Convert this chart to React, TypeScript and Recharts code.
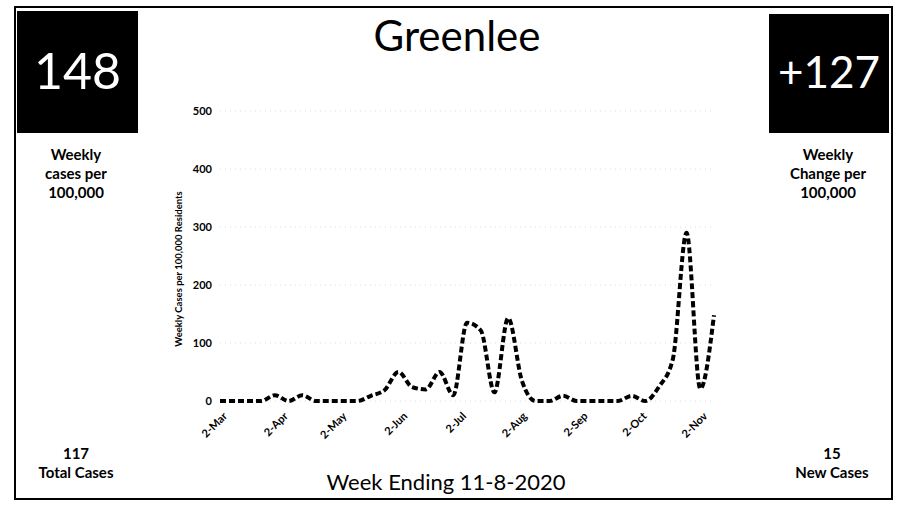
import React from "react";
import { LineChart, Line, XAxis, YAxis, CartesianGrid } from "recharts";

const weekEnding = [
  "2020-03-01","2020-03-08","2020-03-15","2020-03-22","2020-03-29","2020-04-05","2020-04-12","2020-04-19","2020-04-26",
  "2020-05-03","2020-05-10","2020-05-17","2020-05-24","2020-05-31","2020-06-07","2020-06-14","2020-06-21","2020-06-28",
  "2020-07-05","2020-07-12","2020-07-19","2020-07-26","2020-08-02","2020-08-09","2020-08-16","2020-08-23","2020-08-30",
  "2020-09-06","2020-09-13","2020-09-20","2020-09-27","2020-10-04","2020-10-11","2020-10-18","2020-10-25","2020-11-01","2020-11-08",
];
const weeklyCases = [
  0, 0, 0, 0, 10, 0, 10, 0, 0,
  0, 0, 9, 19, 50, 24, 20, 50, 10,
  135, 122, 15, 143, 35, 0, 0, 9, 0,
  0, 0, 0, 9, 0, 25, 72, 290, 21, 148,
];
const tickDates = ["2020-03-02","2020-04-02","2020-05-02","2020-06-02","2020-07-02","2020-08-02","2020-09-02","2020-10-02","2020-11-02"];
const tickLabels = ["2-Mar","2-Apr","2-May","2-Jun","2-Jul","2-Aug","2-Sep","2-Oct","2-Nov"];
const yTicks = [0, 100, 200, 300, 400, 500];

const DAY = 86400000;
const t0 = Date.parse(weekEnding[0]);
const toDay = (s: string) => Math.round((Date.parse(s) - t0) / DAY);
const data = weekEnding.map((d, i) => ({ t: toDay(d), v: weeklyCases[i] }));
const ticks = tickDates.map(toDay);
const labelOf: Record<number, string> = {};
ticks.forEach((t, i) => (labelOf[t] = tickLabels[i]));

const FONT = "Lato, 'Open Sans', sans-serif";

const XTick = (props: any) => {
  const { x, y, payload } = props;
  return (
    <g transform={`translate(${x + 3},${y + 5})`}>
      <text transform="rotate(-45)" textAnchor="end" fontSize={11} fontWeight={700} fill="#000" fontFamily={FONT} dy={4}>
        {labelOf[payload.value]}
      </text>
    </g>
  );
};

const abs = (l: number, t: number, w: number, extra: any = {}) => ({
  position: "absolute" as const, left: l, top: t, width: w, textAlign: "center" as const, fontFamily: FONT, color: "#000", lineHeight: 1, ...extra,
});

export default function App() {
  return (
    <div style={{ position: "absolute", left: 0, top: 0, width: 897, height: 505, background: "#fff", overflow: "hidden" }}>
      <div style={{ position: "absolute", left: 14, top: 6, width: 879, height: 494, border: "2px solid #000", boxSizing: "border-box" }} />
      <div style={{ position: "absolute", left: 17, top: 11, width: 121, height: 122, background: "#000" }} />
      <div style={{ position: "absolute", left: 769, top: 14, width: 120, height: 119, background: "#000" }} />
      <LineChart width={897} height={505} data={data} margin={{ top: 111, right: 183, bottom: 74, left: 180 }} style={{ position: "absolute", left: 0, top: 0 }}>
        <CartesianGrid vertical={false} stroke="#dcdcdc" strokeDasharray="1 4" />
        <XAxis dataKey="t" type="number" domain={[0, 252]} ticks={ticks} interval={0} axisLine={false} tickLine={false} height={30} tick={<XTick />} />
        <YAxis domain={[0, 500]} ticks={yTicks} axisLine={false} tickLine={false} width={40}
          tick={{ fontSize: 11, fontWeight: 700, fill: "#000", fontFamily: FONT }} />
        <Line type="monotone" dataKey="v" stroke="#000" strokeWidth={4} strokeDasharray="6 3" dot={false} isAnimationActive={false} />
      </LineChart>
      <svg width={897} height={505} style={{ position: "absolute", left: 0, top: 0, pointerEvents: "none" }}>
        <text transform="translate(182,269) rotate(-90)" textAnchor="middle" fontSize={9.5} fontWeight={700} fontFamily={FONT} fill="#000">
          Weekly Cases per 100,000 Residents
        </text>
      </svg>
      <div style={abs(17, 45, 121, { fontSize: 50, fontWeight: 400, color: "#fff" })}>148</div>
      <div style={abs(769, 49, 120, { fontSize: 44, fontWeight: 400, color: "#fff" })}>+127</div>
      <div style={abs(257, 14, 400, { fontSize: 42 })}>Greenlee</div>
      <div style={abs(16, 145, 120, { fontSize: 15, fontWeight: 700, lineHeight: "19px" })}>Weekly<br />cases per<br />100,000</div>
      <div style={abs(768, 145, 120, { fontSize: 15, fontWeight: 700, lineHeight: "19px" })}>Weekly<br />Change per<br />100,000</div>
      <div style={abs(16, 444, 120, { fontSize: 15, fontWeight: 700, lineHeight: "19px" })}>117<br />Total Cases</div>
      <div style={abs(772, 444, 120, { fontSize: 15, fontWeight: 700, lineHeight: "19px" })}>15<br />New Cases</div>
      <div style={abs(246, 471, 400, { fontSize: 22 })}>Week Ending 11-8-2020</div>
    </div>
  );
}
